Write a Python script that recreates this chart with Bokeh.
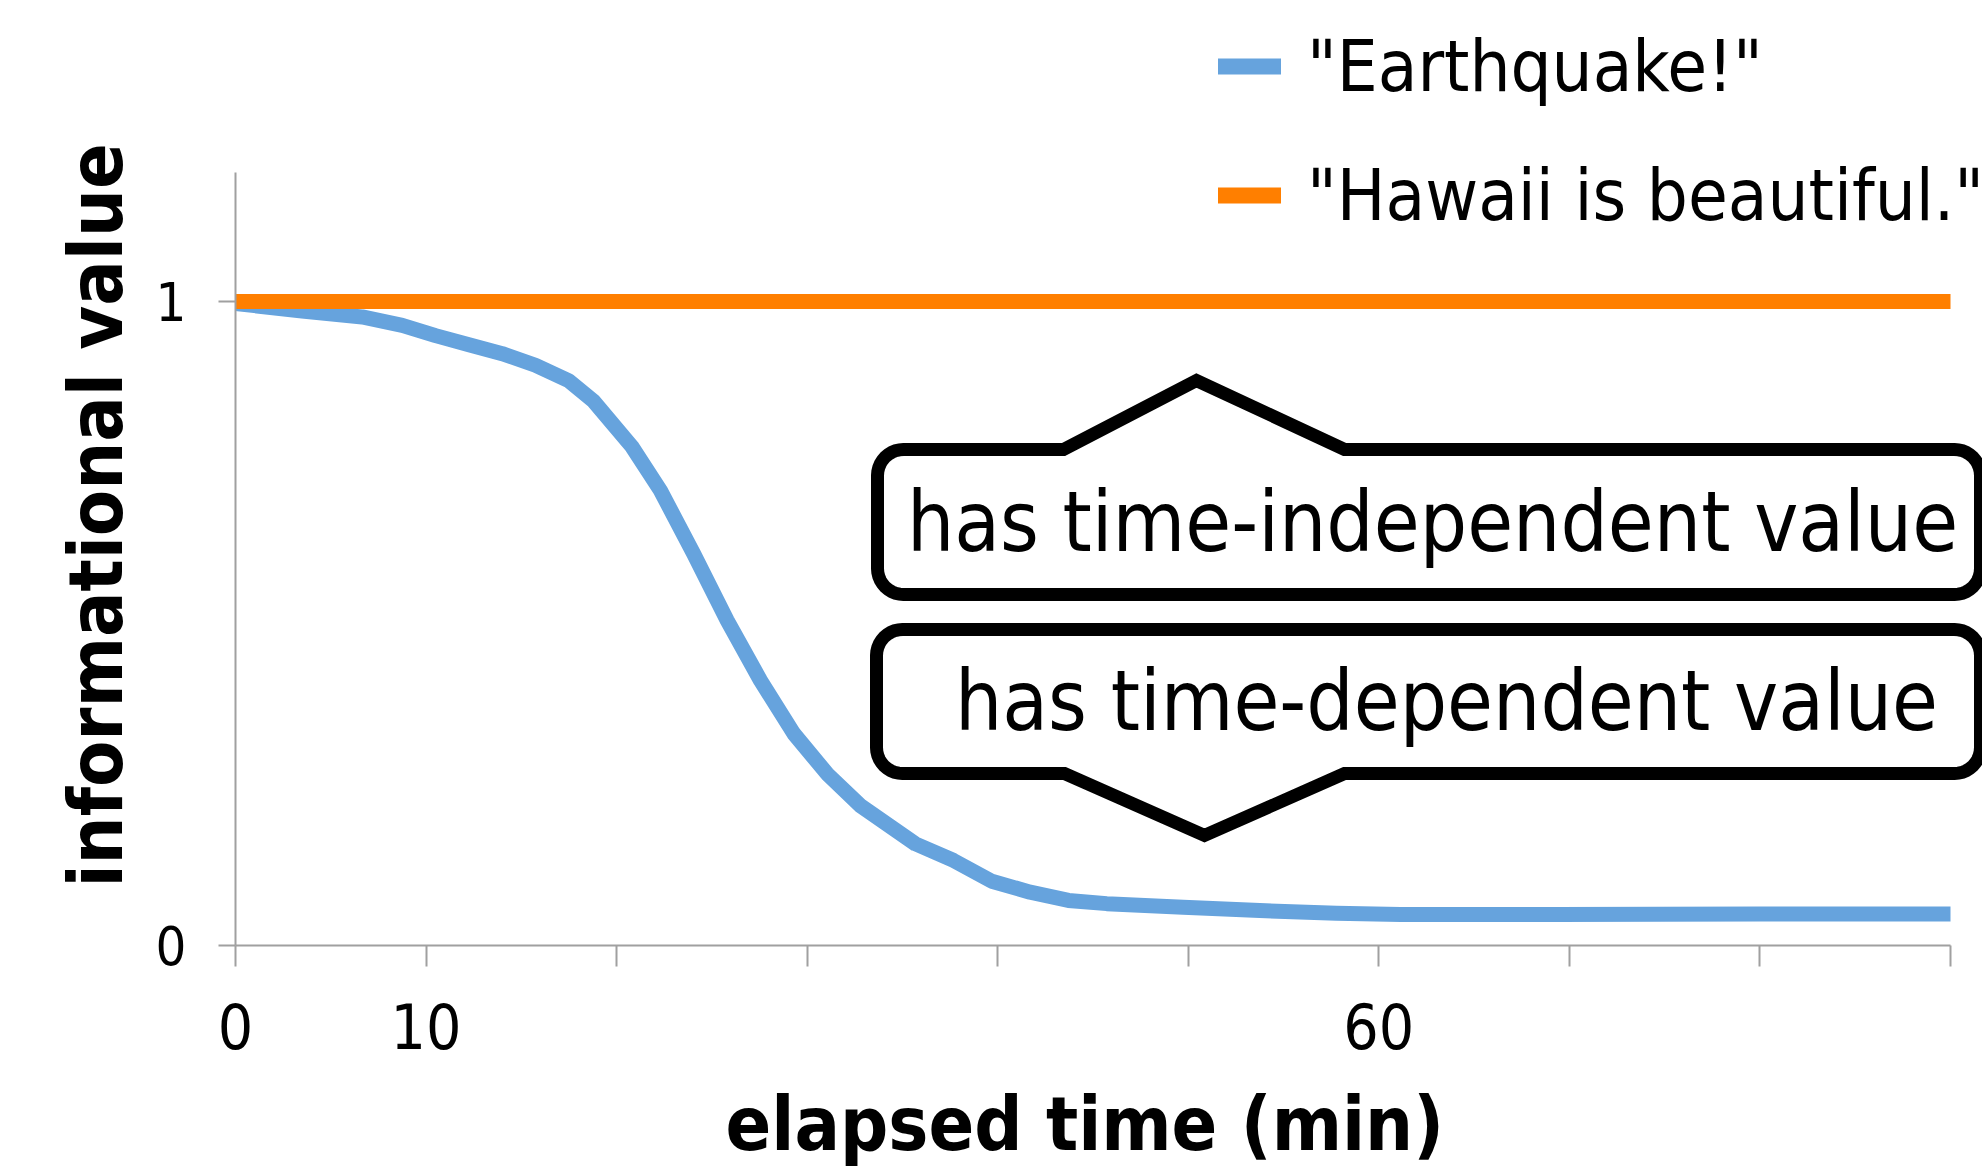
import math
from bokeh.plotting import figure
from bokeh.models import (Range1d, FixedTicker, Legend, LegendItem, Label,
                          ColumnDataSource, Title)
from bokeh.embed import file_html
from bokeh.resources import INLINE

# ---------------- data ----------------
quake_x = [0, 3.5, 6.65, 8.75, 10.5, 12.25, 14.0, 15.74, 17.49, 18.8, 20.82,
           22.3, 24.05, 25.8, 27.55, 29.3, 31.05, 32.8, 35.67, 37.68, 39.69,
           41.7, 43.71, 45.72, 49.73, 53.75, 57.77, 61.14, 69.4, 80.0, 90.0]
quake_y = [0.997, 0.985, 0.976, 0.963, 0.947, 0.933, 0.919, 0.901, 0.877,
           0.845, 0.774, 0.7065, 0.608, 0.505, 0.4115, 0.329, 0.2666, 0.217,
           0.158, 0.132, 0.0998, 0.0828, 0.070, 0.065, 0.0595, 0.0543, 0.050,
           0.048, 0.048, 0.049, 0.049]
hawaii_x = [0, 90]
hawaii_y = [1, 1]

series_names = ['"Earthquake!"', '"Hawaii is beautiful."']
x_ticks = [0, 10, 20, 30, 40, 50, 60, 70, 80, 90]
x_tick_labels = {0: "0", 10: "10", 60: "60"}
y_ticks = [0, 1]
x_title = "elapsed time (min)"
y_title = "informational value"
callout_top_text = "has time-independent value"
callout_bottom_text = "has time-dependent value"

BLUE = "#66A3DD"
ORANGE = "#FF7F00"
AXIS_GRAY = "#A0A0A0"
FONT = "DejaVu Sans Condensed"

# ---------------- layout (page pixels) ----------------
W, H = 1982, 1173
FRAME_LEFT = 235          # page x of x=0
X90_PX = 1950             # page x of x=90
Y0_PX = 945               # page y of y=0
Y1_PX = 301               # page y of y=1
FRAME_RIGHT = W
FRAME_TOP = 0

px_per_x = (X90_PX - FRAME_LEFT) / 90.0
px_per_y = (Y0_PX - Y1_PX) / 1.0
x_end = (FRAME_RIGHT - FRAME_LEFT) / px_per_x
y_end = (Y0_PX - FRAME_TOP) / px_per_y


def dx(px):
    return (px - FRAME_LEFT) / px_per_x


def dy(py):
    return (Y0_PX - py) / px_per_y


p = figure(width=W, height=H,
           x_range=Range1d(0, x_end), y_range=Range1d(0, y_end),
           output_backend="svg", toolbar_location=None,
           min_border_left=FRAME_LEFT, min_border_right=0,
           min_border_top=0, min_border_bottom=H - Y0_PX)
p.outline_line_color = None
p.background_fill_color = "white"
p.border_fill_color = "white"
p.xgrid.visible = False
p.ygrid.visible = False

# axes
xa = p.xaxis[0]
xa.ticker = FixedTicker(ticks=x_ticks)
xa.bounds = (0, 90)
xa.major_label_overrides = {t: x_tick_labels.get(t, "") for t in x_ticks}
xa.axis_line_color = AXIS_GRAY
xa.axis_line_width = 2
xa.major_tick_line_color = AXIS_GRAY
xa.major_tick_line_width = 2
xa.major_tick_out = 21
xa.major_tick_in = 0
xa.minor_tick_line_color = None
xa.major_label_text_font = FONT
xa.major_label_text_font_size = "62px"
xa.major_label_text_color = "black"
xa.major_label_standoff = 36

ya = p.yaxis[0]
ya.ticker = FixedTicker(ticks=y_ticks)
ya.bounds = (0, 1.2)
ya.axis_line_color = AXIS_GRAY
ya.axis_line_width = 2
ya.major_tick_line_color = AXIS_GRAY
ya.major_tick_line_width = 2
ya.major_tick_out = 17
ya.major_tick_in = 0
ya.minor_tick_line_color = None
ya.major_label_text_font = FONT
ya.major_label_text_font_size = "54px"
ya.major_label_text_color = "black"
ya.major_label_standoff = 32

# axis titles
p.add_layout(Title(text=y_title, align="left", offset=58, standoff=26,
                   vertical_align="bottom", text_font=FONT,
                   text_font_size="75px", text_font_style="bold",
                   text_color="black"), "left")
# small spacer between the x tick labels and the x title
p.add_layout(Title(text=" ", standoff=22, text_font_size="2px",
                   text_color="white"), "below")
p.add_layout(Title(text=x_title, align="left", offset=490, standoff=4,
                   vertical_align="top", text_font=FONT,
                   text_font_size="75px", text_font_style="bold",
                   text_color="black"), "below")

# series
quake_src = ColumnDataSource(dict(x=quake_x, y=quake_y))
hawaii_src = ColumnDataSource(dict(x=hawaii_x, y=hawaii_y))
p.line("x", "y", source=quake_src, line_color=BLUE, line_width=15,
       line_join="round")
p.line("x", "y", source=hawaii_src, line_color=ORANGE, line_width=15)

# legend swatches (round-capped, no visible data of their own)
nan = float("nan")
leg_q = p.line(x=[nan], y=[nan], line_color=BLUE, line_width=16,
               line_cap="round")
leg_h = p.line(x=[nan], y=[nan], line_color=ORANGE, line_width=16,
               line_cap="round")
legend = Legend(items=[LegendItem(label=series_names[0], renderers=[leg_q]),
                       LegendItem(label=series_names[1], renderers=[leg_h])],
                location=(1218 - FRAME_LEFT, Y0_PX - 245),
                orientation="vertical", padding=0, margin=0, spacing=29,
                glyph_width=63, glyph_height=100, label_height=100,
                label_standoff=26,
                label_text_font=FONT, label_text_font_size="72px",
                label_text_color="black",
                background_fill_alpha=0, border_line_color=None,
                click_policy="none")
p.add_layout(legend)


# callouts
def callout(left, top, right, bottom, r, notch_side, n0, apex_x, apex_y, n1):
    pts = []

    def arc(cx, cy, a0, a1, n=10):
        for i in range(n + 1):
            t = math.radians(a0 + (a1 - a0) * i / n)
            pts.append((cx + r * math.cos(t), cy + r * math.sin(t)))

    pts.append((left + r, top))
    if notch_side == "top":
        pts += [(n0, top), (apex_x, apex_y), (n1, top)]
    pts.append((right - r, top))
    arc(right - r, top + r, -90, 0)
    arc(right - r, bottom - r, 0, 90)
    if notch_side == "bottom":
        pts += [(n1, bottom), (apex_x, apex_y), (n0, bottom)]
    arc(left + r, bottom - r, 90, 180)
    arc(left + r, top + r, 180, 270)
    xs = [dx(a) for a, b in pts]
    ys = [dy(b) for a, b in pts]
    return xs, ys


for shape in (callout(877, 449, 1980, 594, 26, "top", 1063, 1196, 380, 1344),
              callout(876, 629, 1980, 773, 26, "bottom", 1064, 1204, 835, 1344)):
    p.patch(shape[0], shape[1], fill_color="white", line_color="black",
            line_width=13, line_join="miter")

CALLOUT_FS = 83
BASE_FIX = 0.365 * CALLOUT_FS
p.add_layout(Label(x=dx(1432), y=dy(552 - BASE_FIX), text=callout_top_text,
                   text_align="center", text_baseline="alphabetic",
                   text_font=FONT, text_font_size=f"{CALLOUT_FS}px",
                   text_color="black"))
p.add_layout(Label(x=dx(1446), y=dy(731 - BASE_FIX), text=callout_bottom_text,
                   text_align="center", text_baseline="alphabetic",
                   text_font=FONT, text_font_size=f"{CALLOUT_FS}px",
                   text_color="black"))

open("out.html", "w").write(file_html(p, INLINE))
